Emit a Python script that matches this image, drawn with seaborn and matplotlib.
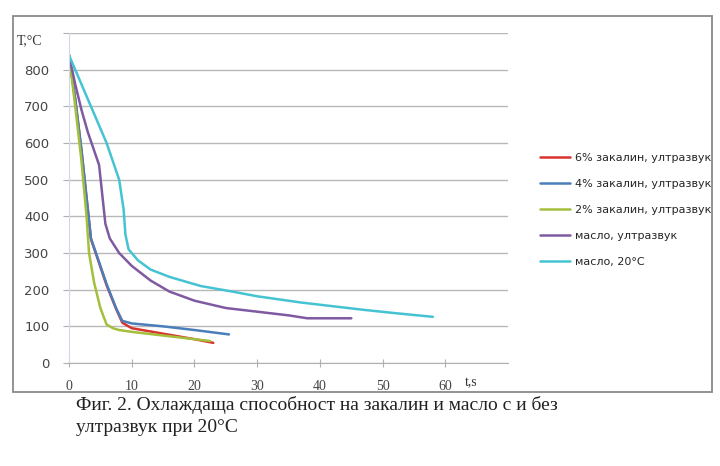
import seaborn as sns
import pandas as pd
import matplotlib.pyplot as plt
from matplotlib.patches import Rectangle

# cooling curves (t in s, T in C)
t_6 = [0, 1, 2, 3, 3.5, 4.5, 6, 7.5, 8.5, 10, 15, 20, 23]
T_6 = [838, 718, 578, 418, 338, 288, 212, 148, 110, 95, 80, 65, 55]
t_4 = [0, 1, 2, 3, 3.5, 4.5, 6, 7.5, 8.5, 10, 15, 20, 25.5]
T_4 = [840, 720, 580, 420, 340, 290, 215, 150, 115, 108, 100, 90, 78]
t_2 = [0, 1, 2, 2.8, 3.2, 4, 5, 6, 7, 8, 10, 15, 20, 22.5]
T_2 = [840, 700, 550, 400, 300, 220, 150, 105, 95, 90, 85, 75, 65, 60]
t_oil_us = [0, 1, 2, 3, 4, 4.8, 5.3, 5.8, 6.5, 8, 10, 13, 16, 20, 25, 30, 35, 38, 41, 45]
T_oil_us = [840, 760, 690, 630, 580, 540, 460, 380, 340, 300, 265, 225, 195, 170, 150, 140, 130, 122, 122, 122]
t_oil = [0, 2, 4, 6, 8, 8.7, 9, 9.5, 11, 13, 16, 21, 26, 30, 37, 42, 47, 52, 58]
T_oil = [840, 760, 680, 600, 500, 420, 350, 310, 280, 255, 235, 210, 195, 182, 165, 155, 145, 136, 126]

labels = ['6% закалин, ултразвук', '4% закалин, ултразвук', '2% закалин, ултразвук',
          'масло, ултразвук', 'масло, 20°C']
colors = ['#d9332e', '#4a7ebb', '#a3bf3c', '#7f5aa2', '#45c3d3']

parts = []
for lab, t, T in zip(labels, [t_6, t_4, t_2, t_oil_us, t_oil],
                     [T_6, T_4, T_2, T_oil_us, T_oil]):
    parts.append(pd.DataFrame({'t': t, 'T': T, 'series': lab}))
df = pd.concat(parts, ignore_index=True)

sns.set_style('white')
fig = plt.figure(figsize=(7.2, 4.66), dpi=100)
ax = fig.add_axes([0.0958, 0.221, 0.61, 0.708])

sns.lineplot(data=df, x='t', y='T', hue='series', hue_order=labels,
             palette=colors, sort=False, estimator=None, linewidth=1.8, ax=ax)

ax.set_xlim(0, 70)
ax.set_ylim(0, 900)
ax.set_xticks(range(0, 61, 10))
ax.set_yticks(range(0, 901, 100))
ax.set_yticklabels([str(v) for v in range(0, 801, 100)] + [''])
ax.yaxis.grid(True, color='#b8b8b8', linewidth=1)
ax.xaxis.grid(False)
for s in ['top', 'right']:
    ax.spines[s].set_visible(False)
ax.spines['left'].set_color('#cfd8e8')
ax.spines['bottom'].set_color('#b0b0b0')
ax.tick_params(axis='y', left=True, length=4, color='#b0b0b0', pad=10,
               labelsize=9.5, labelcolor='#444444')
ax.tick_params(axis='x', bottom=True, direction='inout', length=6,
               color='#b0b0b0', pad=9, labelsize=10, labelcolor='#444444')
for lbl in ax.get_xticklabels():
    lbl.set_family('Liberation Serif')
ax.set_xlabel('')
ax.set_ylabel('')

fig.text(17 / 720, 1 - 41 / 466, 'T,°C', family='Liberation Serif', fontsize=10,
         color='#333333', va='center')
fig.text(465 / 720, 1 - 383 / 466, 't,s', family='Liberation Serif', fontsize=10,
         color='#333333', va='center')

handles, labs = ax.get_legend_handles_labels()
ax.legend(handles, labs, loc='upper left', bbox_to_anchor=(0.736, 0.694),
          bbox_transform=fig.transFigure, frameon=False, fontsize=8,
          handlelength=2.7, handletextpad=0.5, labelspacing=1.44)

fig.patches.append(Rectangle((13 / 720, 1 - 392 / 466), 699 / 720, 376 / 466,
                             transform=fig.transFigure, fill=False,
                             edgecolor='#8a8a8a', linewidth=1.3))

fig.text(76 / 720, 1 - 405 / 466,
         'Фиг. 2. Охлаждаща способност на закалин и масло с и без',
         family='Liberation Serif', fontsize=14, color='#222222', va='center')
fig.text(76 / 720, 1 - 428 / 466, 'ултразвук при 20°C',
         family='Liberation Serif', fontsize=14, color='#222222', va='center')

fig.savefig('out.png', dpi=100)
